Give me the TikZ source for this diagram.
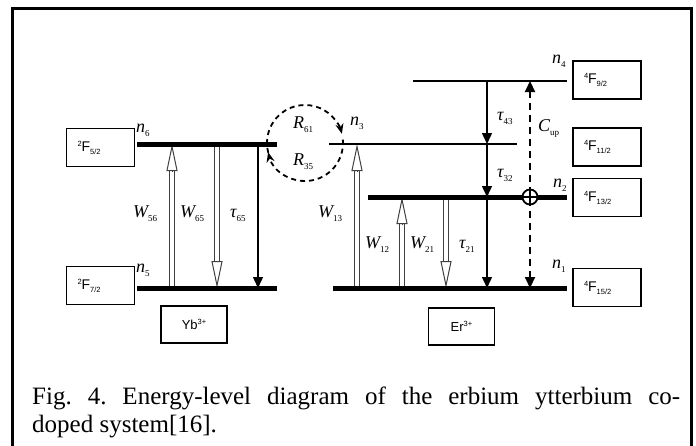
\documentclass[tikz,border=0pt]{standalone}
\usepackage{fontspec}
\setmainfont{Liberation Serif}
\newfontfamily\sansf{Liberation Sans}
\usetikzlibrary{arrows.meta,calc}
\frenchspacing
\newcommand\lbl[2]{{\fontsize{18}{18}\selectfont\itshape #1}\raisebox{-4pt}{\fontsize{9}{9}\selectfont #2}}
\newcommand\term[2]{{\sansf\fontsize{14}{14}\selectfont\raisebox{5pt}{\fontsize{7.5}{7.5}\selectfont #1}F\raisebox{-3pt}{\fontsize{7.5}{7.5}\selectfont #2}}}
\newcommand\ion[2]{{\sansf\fontsize{13}{13}\selectfont #1\raisebox{5pt}{\fontsize{7.5}{7.5}\selectfont #2}}}
\newcommand\hollowarr[2]{%
  \draw[hshaft] (#1) -- ($(#2)!24pt!(#1)$);
  \draw[hhead] ($(#2)!27pt!(#1)$) -- (#2);}
\tikzset{
  frameline/.style={line width=3pt},
  thicklevel/.style={line width=5pt},
  thinlevel/.style={line width=2.5pt},
  hshaft/.style={draw=black!75, line width=0.9pt, double=white, double distance=3.5pt},
  hhead/.style={draw=black!75, line width=1pt, -{Triangle[length=27pt,width=11pt,fill=white]}},
  sarr/.style={line width=1.4pt, -{Triangle[length=11pt,width=10pt]}},
  cuparr/.style={line width=2.2pt, dash pattern=on 7pt off 5pt, {Triangle[length=11pt,width=10pt]}-{Triangle[length=11pt,width=10pt]}},
  dcirc/.style={line width=1.8pt, dash pattern=on 5pt off 4pt, -{Stealth[length=10pt,width=8pt]}},
  lab/.style={anchor=base west, inner sep=0pt},
  termbox/.style={draw, line width=1.6pt, minimum width=68pt, minimum height=38pt, text width=46pt, inner xsep=11pt, align=left},
  ionbox/.style={draw, line width=1.6pt, minimum width=66pt, minimum height=37pt},
}
\begin{document}
\begin{tikzpicture}[x=1pt,y=1pt]
\useasboundingbox (0,0) rectangle (696,-445);
% frame
\coordinate (fbl) at (12,-446);
\coordinate (ftl) at (12,-8);
\coordinate (ftr) at (691,-8);
\coordinate (fbr) at (691,-446);
\draw[frameline] (fbl) -- (ftl) -- (ftr) -- (fbr);
% level end points
\coordinate (n6L) at (137,-144); \coordinate (n6R) at (277,-144);
\coordinate (n5L) at (137,-288); \coordinate (n5R) at (277,-288);
\coordinate (n4L) at (413,-81);  \coordinate (n4R) at (567,-81);
\coordinate (n3L) at (329,-144); \coordinate (n3R) at (517,-144);
\coordinate (n2L) at (368,-197); \coordinate (n2R) at (567,-197);
\coordinate (n1L) at (333,-288); \coordinate (n1R) at (567,-288);
% arrow anchor points
\coordinate (a56b) at (172,-288); \coordinate (a56t) at (172,-144);
\coordinate (a65t) at (217,-144); \coordinate (a65b) at (217,-288);
\coordinate (t65t) at (258,-144); \coordinate (t65b) at (258,-288);
\coordinate (a13b) at (357,-288); \coordinate (a13t) at (357,-144);
\coordinate (a12b) at (402,-288); \coordinate (a12t) at (402,-197);
\coordinate (a21t) at (446,-197); \coordinate (a21b) at (446,-288);
\coordinate (t4) at (487,-81); \coordinate (t3) at (487,-144);
\coordinate (t2) at (487,-197); \coordinate (t1) at (487,-288);
\coordinate (c1) at (530,-288); \coordinate (c4) at (530,-81);
% hollow arrows
\hollowarr{a56b}{a56t}
\hollowarr{a65t}{a65b}
\hollowarr{a13b}{a13t}
\hollowarr{a12b}{a12t}
\hollowarr{a21t}{a21b}
% solid arrows
\draw[sarr] (t65t) -- (t65b);
\draw[sarr] (t4) -- (t3);
\draw[sarr] (t3) -- (t2);
\draw[sarr] (t2) -- (t1);
\draw[cuparr] (c1) -- (c4);
% levels
\draw[thicklevel] (n6L) -- (n6R);
\draw[thicklevel] (n5L) -- (n5R);
\draw[thinlevel] (n4L) -- (n4R);
\draw[thinlevel] (n3L) -- (n3R);
\draw[thicklevel] (n2L) -- (n2R);
\draw[thicklevel] (n1L) -- (n1R);
% cross-relaxation circle
\coordinate (cc) at (305,-143);
\draw[dcirc] ($(cc)+(195:38)$) arc[start angle=195, end angle=14, radius=38];
\draw[dcirc] ($(cc)+(5:38)$) arc[start angle=5, end angle=-166, radius=38];
% plus circle
\node[circle, draw, fill=white, line width=1.8pt, minimum size=15pt, inner sep=0pt] (plus) at (530,-197) {};
\draw[line width=1.6pt] (plus.north) -- (plus.south);
\draw[line width=1.6pt] (plus.west) -- (plus.east);
% term boxes
\node[termbox] (F52) at (100.5,-147.5) {\term{2}{5/2}};
\node[termbox] (F72) at (100.5,-285.5) {\term{2}{7/2}};
\node[termbox] (F92) at (607,-80) {\term{4}{9/2}};
\node[termbox] (F112) at (607,-147) {\term{4}{11/2}};
\node[termbox] (F132) at (607,-197.5) {\term{4}{13/2}};
\node[termbox] (F152) at (607,-287.5) {\term{4}{15/2}};
\node[ionbox] (yb) at (194,-324.5) {\ion{Yb}{3+}};
\node[ionbox] (er) at (461.5,-326.5) {\ion{Er}{3+}};
% labels
\node[lab] (ln6) at (136,-132) {\lbl{n}{6}};
\node[lab] (ln5) at (136,-272) {\lbl{n}{5}};
\node[lab] (lw56) at (133,-217) {\lbl{W}{56}};
\node[lab] (lw65) at (180,-217) {\lbl{W}{65}};
\node[lab] (lt65) at (230,-217) {\lbl{τ}{65}};
\node[lab] (lw13) at (318,-217) {\lbl{W}{13}};
\node[lab] (lw12) at (365,-248) {\lbl{W}{12}};
\node[lab] (lw21) at (410,-248) {\lbl{W}{21}};
\node[lab] (lt21) at (459,-248) {\lbl{τ}{21}};
\node[lab] (lr61) at (293,-128) {\lbl{R}{61}};
\node[lab] (lr35) at (293,-165) {\lbl{R}{35}};
\node[lab] (ln3) at (350,-125) {\lbl{n}{3}};
\node[lab] (lt43) at (497,-120) {\lbl{τ}{43}};
\node[lab] (lcup) at (538,-131) {\lbl{C}{up}};
\node[lab] (lt32) at (497,-177) {\lbl{τ}{32}};
\node[lab] (ln2) at (553,-187) {\lbl{n}{2}};
\node[lab] (ln4) at (552,-63) {\lbl{n}{4}};
\node[lab] (ln1) at (552,-268) {\lbl{n}{1}};
% caption
\node[lab] (cap1) at (32,-404) {\fontsize{25}{29}\selectfont\makebox[648pt][s]{Fig. 4. Energy-level diagram of the erbium ytterbium co-}};
\node[lab] (cap2) at (32,-432) {\fontsize{25}{29}\selectfont doped system[16].};
\end{tikzpicture}
\end{document}
